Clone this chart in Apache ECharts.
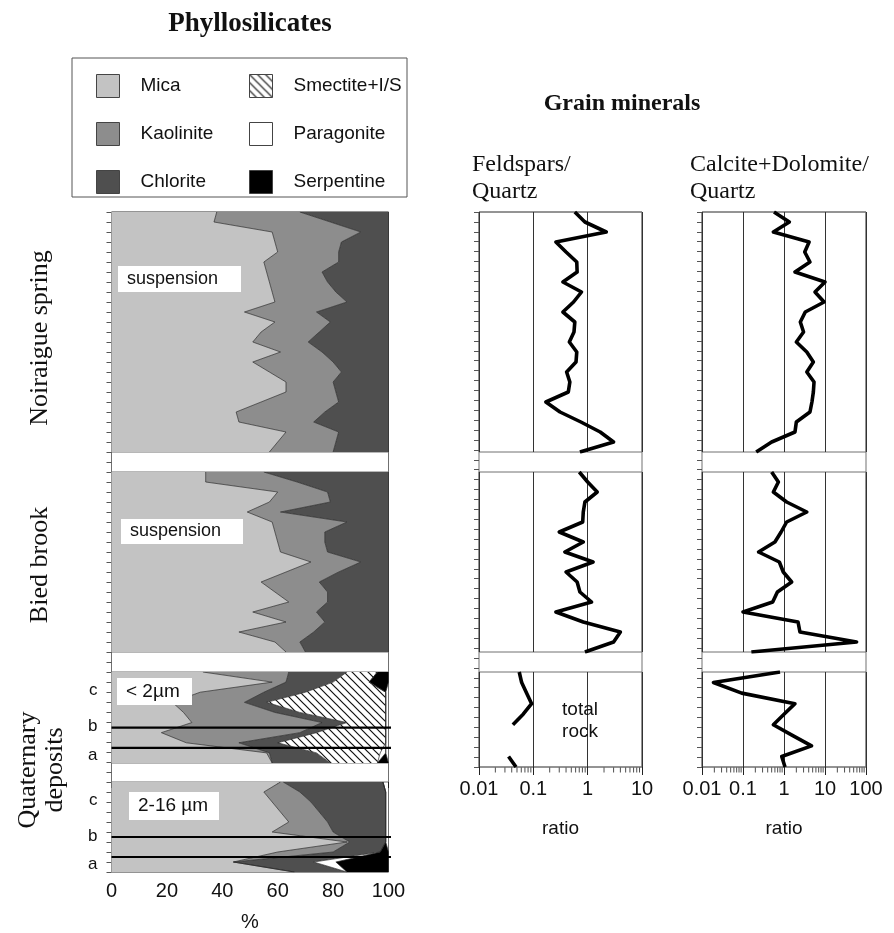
<!DOCTYPE html>
<html>
<head>
<meta charset="utf-8">
<script src="https://cdn.jsdelivr.net/npm/echarts@6/dist/echarts.min.js"></script>
<style>
  html, body { margin: 0; padding: 0; background: #fff; }
  #chart { width: 894px; height: 933px; }
</style>
</head>
<body>
<div id="chart"></div>
<script>
// ---- Phyllosilicates (%), one value per sample, top to bottom ----
const noiMica = [38,37,58,59,60,55,56,57,58,59,48,59,54,51,61,51,57,63,63,54,45,46,63,60,57];
const noiKaol = [30,42,32,24,22,27,20,21,23,26,26,20,21,20,15,29,26,17,18,28,32,27,19,21,23];
const noiChl  = [32,21,10,17,18,18,24,22,19,15,26,21,25,29,24,20,17,20,19,18,23,27,18,19,20];

const biedMica = [34,34,60,57,49,58,59,60,61,72,63,54,59,64,51,63,46,59,63];
const biedKaol = [21,33,18,22,12,27,18,17,17,18,19,21,19,14,23,14,27,9,7];
const biedChl  = [45,33,22,21,39,15,23,23,22,10,18,25,22,22,26,23,27,32,30];

// Quaternary deposits < 2 µm
const fineMica = [33,58,32,22,26,29,18,27,56,58];
const fineKaol = [31,5,23,26,33,47,50,19,1,0];
const fineChl  = [21,17,15,8,9,9,6,14,17,21];
const fineSmec = [11,13,29,43,31,14,25,39,23,17];
const finePara = [0,0,0,0,0,0,0,0,2,0];
const fineSerp = [4,7,0,0,0,0,0,0,0,4];

// Quaternary deposits 2-16 µm
const coarseMica = [61,55,58,61,64,58,85,60,44,66];
const coarseKaol = [1,13,14,14,14,22,1,20,0,0];
const coarseChl  = [36,31,27,24,21,19,13,17,29,19];
const coarsePara = [0,0,0,0,0,0,0,0,8,0];
const coarseSerp = [0,0,0,0,0,0,0,3,19,15];

// sample rows for the c / b / a layers
const quatLabels = ['c', 'b', 'a'];
const quatLabelPos = [1.8, 5.4, 8.2];
const quatBreaks = [5.5, 7.5];

// ---- Grain minerals ratios ----
const fsNoi  = [0.58,0.89,2.2,0.26,0.4,0.63,0.64,0.35,0.77,0.55,0.35,0.58,0.56,0.46,0.63,0.61,0.41,0.47,0.44,0.17,0.31,0.75,1.7,3.0,0.72];
const fsBied = [0.70,1.0,1.5,0.89,0.83,0.81,0.30,0.83,0.38,1.26,0.40,0.64,0.72,1.18,0.26,0.83,4.0,3.0,0.89];
const fsRock = [0.055,0.061,0.075,0.093,0.065,0.042,null,null,0.035,0.048];

const cdNoi  = [0.57,1.35,0.55,4.1,3.2,4.3,1.85,10,5.7,9.5,3.3,2.5,3.0,2.0,3.6,5.2,3.6,5.4,5.2,4.8,4.3,2.0,1.85,0.5,0.21];
const cdBied = [0.50,0.73,0.55,1.16,3.6,1.16,0.85,0.6,0.24,0.77,0.96,1.54,0.69,0.53,0.10,2.2,2.45,59,0.16];
const cdRock = [0.80,0.019,0.093,1.85,1.0,0.55,1.6,4.7,0.88,1.06];

// log axis minor tick positions
const minorFs = [0.02,0.03,0.04,0.05,0.06,0.07,0.08,0.09,0.2,0.3,0.4,0.5,0.6,0.7,0.8,0.9,2,3,4,5,6,7,8,9];
const minorCd = minorFs.concat([20,30,40,50,60,70,80,90]);

const SANS = '"Liberation Sans", Arial, sans-serif';
const SERIF = '"Liberation Serif", "Times New Roman", serif';

// hatch for smectite
const hatchCanvas = (function () {
  const c = document.createElement('canvas');
  c.width = 8; c.height = 8;
  const g = c.getContext('2d');
  g.fillStyle = '#fff';
  g.fillRect(0, 0, 8, 8);
  g.strokeStyle = '#111';
  g.lineWidth = 1.2;
  g.beginPath();
  g.moveTo(-1, -1); g.lineTo(9, 9);
  g.moveTo(-1, 7); g.lineTo(1, 9);
  g.moveTo(7, -1); g.lineTo(9, 1);
  g.stroke();
  return c;
})();
const HATCH = { image: hatchCanvas, repeat: 'repeat' };

const minerals = [
  { key: 'mica', name: 'Mica', fill: '#c3c3c3' },
  { key: 'kaol', name: 'Kaolinite', fill: '#8d8d8d' },
  { key: 'chl', name: 'Chlorite', fill: '#4f4f4f' },
  { key: 'smec', name: 'Smectite+I/S', fill: HATCH },
  { key: 'para', name: 'Paragonite', fill: '#ffffff' },
  { key: 'serp', name: 'Serpentine', fill: '#000000' }
];

const leftSections = [
  { top: 212, height: 240, mica: noiMica, kaol: noiKaol, chl: noiChl },
  { top: 472, height: 180, mica: biedMica, kaol: biedKaol, chl: biedChl },
  { top: 672, height: 91, mica: fineMica, kaol: fineKaol, chl: fineChl, smec: fineSmec, para: finePara, serp: fineSerp, quat: true },
  { top: 782, height: 90, mica: coarseMica, kaol: coarseKaol, chl: coarseChl, para: coarsePara, serp: coarseSerp, quat: true, last: true }
];

const ratioRows = [[212, 240], [472, 180], [672, 95]];
const ratioCols = [
  { left: 479, width: 163, max: 10, data: [fsNoi, fsBied, fsRock], minor: minorFs },
  { left: 702, width: 164, max: 100, data: [cdNoi, cdBied, cdRock], minor: minorCd }
];

const grid = [], xAxis = [], yAxis = [], series = [];
const BORDER = '#707070';

// outer frame of a column: keeps the outline and the side ticks going through the gaps
function addFrame(left, top, width, height, nTicks) {
  grid.push({ left, top, width, height, show: true, borderColor: BORDER, borderWidth: 1,
    backgroundColor: 'transparent', outerBoundsMode: 'none' });
  const gi = grid.length - 1;
  xAxis.push({ gridIndex: gi, type: 'value', show: false, splitLine: { show: false } });
  const cats = [];
  for (let i = 0; i < nTicks; i++) cats.push(i);
  yAxis.push({
    gridIndex: gi, type: 'category', inverse: true, boundaryGap: false, data: cats,
    axisLine: { show: false }, axisLabel: { show: false }, splitLine: { show: false },
    axisTick: { show: true, interval: 0, length: 5, lineStyle: { color: '#555' } }
  });
}

addFrame(111.5, 212, 277, 660, 67);
addFrame(479, 212, 163, 555, 57);
addFrame(702, 212, 164, 555, 57);

// left column: stacked phyllosilicates
leftSections.forEach(function (sec) {
  const last = !!sec.last;
  grid.push({ left: 111.5, top: sec.top, width: 277, height: sec.height, show: true,
    borderColor: BORDER, borderWidth: 1, backgroundColor: 'transparent', outerBoundsMode: 'none' });
  const gi = grid.length - 1;
  xAxis.push({
    gridIndex: gi, type: 'value', min: 0, max: 100, interval: 20,
    axisLine: { show: false },
    axisTick: { show: last, length: 6, lineStyle: { color: '#222' } },
    axisLabel: { show: last, fontSize: 20, color: '#111', fontFamily: SANS, margin: 9 },
    splitLine: { show: false },
    name: last ? '%' : '', nameLocation: 'middle', nameGap: 40,
    nameTextStyle: { fontSize: 20, color: '#111', fontFamily: SANS }
  });
  const xi = xAxis.length - 1;
  yAxis.push({
    gridIndex: gi, type: 'category', inverse: true, boundaryGap: false,
    data: sec.mica.map(function (_, i) { return i; }),
    axisLine: { show: false }, axisTick: { show: false },
    axisLabel: { show: false }, splitLine: { show: false }
  });
  const yi = yAxis.length - 1;

  minerals.forEach(function (m) {
    if (!sec[m.key]) return;
    series.push({
      type: 'line', name: m.name, xAxisIndex: xi, yAxisIndex: yi, stack: 'g' + gi,
      data: sec[m.key], symbol: 'none', silent: true, animation: false,
      lineStyle: { color: '#2a2a2a', width: 0.7 },
      areaStyle: { color: m.fill, opacity: 1 },
      itemStyle: { color: m.key === 'smec' ? '#888' : m.fill }
    });
  });

  if (sec.quat) {
    yAxis.push({
      gridIndex: gi, type: 'value', inverse: true, min: 0, max: 9, interval: 0.2, position: 'left',
      axisLine: { show: false }, axisTick: { show: false }, splitLine: { show: false },
      axisLabel: {
        show: true, margin: 14, fontSize: 17, color: '#111', fontFamily: SANS,
        formatter: function (v) {
          const k = quatLabelPos.findIndex(function (p) { return Math.abs(p - v) < 0.01; });
          return k >= 0 ? quatLabels[k] : '';
        }
      }
    });
    const yv = yAxis.length - 1;
    quatBreaks.forEach(function (b) {
      series.push({
        type: 'line', xAxisIndex: xi, yAxisIndex: yv, data: [[0, b], [101, b]], clip: false,
        symbol: 'none', silent: true, animation: false, z: 5,
        lineStyle: { color: '#000', width: 2.2 }
      });
    });
  }
});

// middle and right columns: log ratios
ratioCols.forEach(function (col) {
  ratioRows.forEach(function (row, k) {
    const last = k === ratioRows.length - 1;
    grid.push({ left: col.left, top: row[0], width: col.width, height: row[1], show: true,
      borderColor: BORDER, borderWidth: 1, backgroundColor: 'transparent', outerBoundsMode: 'none' });
    const gi = grid.length - 1;
    xAxis.push({
      gridIndex: gi, type: 'log', logBase: 10, min: 0.01, max: col.max,
      axisLine: { show: false },
      axisTick: { show: last, length: 8, lineStyle: { color: '#222' } },
      axisLabel: { show: last, fontSize: 20, color: '#111', fontFamily: SANS, margin: 12 },
      splitLine: { show: true, lineStyle: { color: '#333', width: 1 } },
      name: last ? 'ratio' : '', nameLocation: 'middle', nameGap: 52,
      nameTextStyle: { fontSize: 19, color: '#111', fontFamily: SANS }
    });
    const xi = xAxis.length - 1;
    const vals = col.data[k];
    yAxis.push({
      gridIndex: gi, type: 'category', inverse: true, boundaryGap: false,
      data: vals.map(function (_, i) { return i; }),
      axisLine: { show: false }, axisTick: { show: false },
      axisLabel: { show: false }, splitLine: { show: false }
    });
    const yi = yAxis.length - 1;
    series.push({
      type: 'line', xAxisIndex: xi, yAxisIndex: yi, data: vals, symbol: 'none',
      connectNulls: false, silent: true, animation: false, z: 4,
      lineStyle: { color: '#000', width: 3.6, join: 'round' }
    });
    if (last) {
      series.push({
        type: 'scatter', xAxisIndex: xi, yAxisIndex: yi, clip: false, silent: true, animation: false,
        data: col.minor.map(function (v) { return [v, vals.length - 1]; }),
        symbol: 'rect', symbolSize: [1, 5], symbolOffset: [0, 3],
        itemStyle: { color: '#222' }
      });
    }
  });
});

function txt(text, x, y, font, align, rot) {
  return {
    type: 'text', x: x, y: y, rotation: rot || 0, z: 10, silent: true,
    style: { text: text, font: font, fill: '#111', align: align || 'center', verticalAlign: 'middle',
      textAlign: align || 'center', textVerticalAlign: 'middle' }
  };
}
function tagBox(text, x, y, w, h, font) {
  return [
    { type: 'rect', shape: { x: x, y: y, width: w, height: h }, style: { fill: '#fff' }, z: 9, silent: true },
    txt(text, x + 9, y + h / 2, font, 'left')
  ];
}

const graphic = [
  { type: 'rect', shape: { x: 72, y: 58, width: 335, height: 139 }, style: { fill: 'none', stroke: '#555', lineWidth: 1 }, z: 1, silent: true },
  txt('Phyllosilicates', 250, 24, 'bold 27px ' + SERIF),
  txt('Grain minerals', 622, 104, 'bold 24px ' + SERIF),
  txt('Feldspars/', 472, 165, '24px ' + SERIF, 'left'),
  txt('Quartz', 472, 192, '24px ' + SERIF, 'left'),
  txt('Calcite+Dolomite/', 690, 165, '24px ' + SERIF, 'left'),
  txt('Quartz', 690, 192, '24px ' + SERIF, 'left'),
  txt('Noiraigue spring', 40, 338, '26px ' + SERIF, 'center', Math.PI / 2),
  txt('Bied brook', 40, 565, '26px ' + SERIF, 'center', Math.PI / 2),
  txt('Quaternary', 28, 770, '26px ' + SERIF, 'center', Math.PI / 2),
  txt('deposits', 55, 770, '26px ' + SERIF, 'center', Math.PI / 2),
  txt('total', 580, 710, '19px ' + SANS),
  txt('rock', 580, 732, '19px ' + SANS)
].concat(
  tagBox('suspension', 118, 266, 123, 26, '18px ' + SANS),
  tagBox('suspension', 121, 519, 122, 25, '18px ' + SANS),
  tagBox('< 2µm', 117, 678, 75, 27, '19px ' + SANS),
  tagBox('2-16 µm', 129, 792, 90, 28, '19px ' + SANS)
);

function legendItem(m) {
  return { name: m.name, itemStyle: { color: m.fill, borderColor: '#444', borderWidth: 1 } };
}
const legendBase = {
  orient: 'vertical', top: 69, itemWidth: 23, itemHeight: 23, itemGap: 24,
  selectedMode: false, icon: 'rect',
  textStyle: { fontSize: 19, color: '#111', fontFamily: SANS, padding: [0, 0, 0, 16] }
};

const chart = echarts.init(document.getElementById('chart'));
chart.setOption({
  animation: false,
  backgroundColor: '#fff',
  grid: grid,
  xAxis: xAxis,
  yAxis: yAxis,
  series: series,
  graphic: graphic,
  legend: [
    Object.assign({}, legendBase, { left: 91, data: minerals.slice(0, 3).map(legendItem) }),
    Object.assign({}, legendBase, { left: 244, data: minerals.slice(3).map(legendItem) })
  ]
});
</script>
</body>
</html>
